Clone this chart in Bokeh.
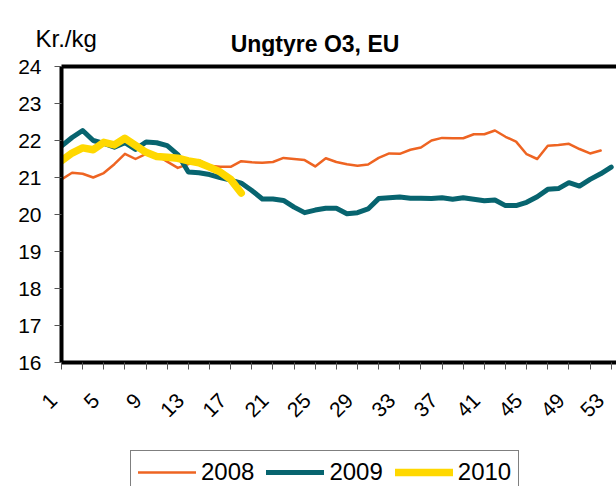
from math import pi
from bokeh.plotting import figure
from bokeh.layouts import column
from bokeh.models import (Range1d, FixedTicker, LinearAxis, Legend, LegendItem,
                          Label, ColumnDataSource)
from bokeh.embed import file_html
from bokeh.resources import INLINE

# ---- data ----
weeks_2008 = list(range(1, 53))
values_2008 = [20.95, 21.13, 21.10, 21.00, 21.12, 21.36, 21.64, 21.50, 21.64, 21.60,
               21.43, 21.26, 21.36, 21.47, 21.32, 21.29, 21.29, 21.44, 21.41, 21.40,
               21.42, 21.53, 21.50, 21.47, 21.30, 21.52, 21.42, 21.36, 21.32, 21.35,
               21.53, 21.65, 21.64, 21.75, 21.81, 22.00, 22.07, 22.06, 22.06, 22.17,
               22.17, 22.27, 22.10, 21.97, 21.63, 21.50, 21.86, 21.88, 21.91, 21.77,
               21.65, 21.73]
weeks_2009 = list(range(1, 54))
values_2009 = [21.85, 22.08, 22.27, 22.00, 21.92, 21.82, 21.94, 21.76, 21.96, 21.94,
               21.86, 21.62, 21.15, 21.13, 21.08, 21.00, 20.93, 20.85, 20.65, 20.42,
               20.42, 20.38, 20.20, 20.05, 20.12, 20.17, 20.17, 20.02, 20.05, 20.15,
               20.43, 20.45, 20.47, 20.44, 20.44, 20.43, 20.45, 20.41, 20.45, 20.41,
               20.37, 20.39, 20.24, 20.24, 20.33, 20.48, 20.68, 20.70, 20.86, 20.77,
               20.95, 21.10, 21.28]
weeks_2010 = list(range(1, 19))
values_2010 = [21.45, 21.66, 21.80, 21.75, 21.95, 21.88, 22.06, 21.87, 21.68, 21.57,
               21.55, 21.52, 21.45, 21.40, 21.28, 21.15, 20.95, 20.58]

x_label_weeks = list(range(1, 54, 4))
x_minor_weeks = list(range(3, 54, 4))
y_ticks = list(range(16, 25))
y_grid = list(range(17, 24))
series_names = ["2008", "2009", "2010"]
series_colors = ["#EE6422", "#07646F", "#FFD800"]
series_widths = [2.5, 5, 7.5]
title_text = "Ungtyre O3, EU"
unit_text = "Kr./kg"

FONT = "Liberation Sans"
W = 616
TOP_H = 56

# ---------------- header (title + unit) ----------------
top = figure(width=W, height=TOP_H, output_backend="svg", toolbar_location=None,
             x_range=Range1d(0, W), y_range=Range1d(TOP_H, 0),
             min_border=0, x_axis_type=None, y_axis_type=None)
top.frame_align = False
top.outline_line_color = None
top.grid.visible = False
top.add_layout(Label(x=35, y=38, text=unit_text, text_font=FONT, text_font_size="24px",
                     text_align="left", text_baseline="alphabetic", text_color="black"))
top.add_layout(Label(x=314.5, y=43, text=title_text, text_font=FONT, text_font_size="23px",
                     text_font_style="bold", text_align="center",
                     text_baseline="alphabetic", text_color="black"))

# ---------------- main chart ----------------
p = figure(width=W, height=394, output_backend="svg", toolbar_location=None,
           x_range=Range1d(1, 53.5), y_range=Range1d(16, 24),
           min_border_left=61, min_border_right=0, min_border_top=10,
           min_border_bottom=88, x_axis_type=None, y_axis_type=None)
p.frame_align = False
p.outline_line_color = None
p.background_fill_color = "white"
p.border_fill_color = "white"

xa = LinearAxis(ticker=FixedTicker(ticks=x_label_weeks, minor_ticks=x_minor_weeks))
xa.axis_line_width = 4
xa.axis_line_color = "black"
xa.major_tick_out = 7
xa.major_tick_in = 0
xa.minor_tick_out = 7
xa.minor_tick_in = 0
xa.major_tick_line_color = "#555555"
xa.minor_tick_line_color = "#555555"
xa.major_label_orientation = pi / 4
xa.major_label_standoff = 19
xa.major_label_overrides = {w: str(w) + "\u00a0\u00a0" for w in x_label_weeks}
xa.major_label_text_font = FONT
xa.major_label_text_font_size = "21px"
xa.major_label_text_color = "black"
p.add_layout(xa, "below")

ya = LinearAxis(ticker=FixedTicker(ticks=y_ticks))
ya.axis_line_width = 4
ya.axis_line_color = "black"
ya.major_tick_out = 7
ya.major_tick_in = 0
ya.minor_tick_line_color = None
ya.major_tick_line_color = "#555555"
ya.major_label_standoff = 13
ya.major_label_text_font = FONT
ya.major_label_text_font_size = "21px"
ya.major_label_text_color = "black"
p.add_layout(ya, "left")

ta = LinearAxis(ticker=FixedTicker(ticks=[27]))
ta.axis_line_width = 4
ta.axis_line_color = "black"
ta.major_tick_line_color = None
ta.minor_tick_line_color = None
ta.major_tick_out = 0
ta.major_tick_in = 0
ta.major_label_text_font_size = "1px"
ta.major_label_text_alpha = 0
ta.major_label_standoff = 0
p.add_layout(ta, "above")

p.xgrid.visible = False
p.ygrid.ticker = FixedTicker(ticks=y_grid)
p.ygrid.grid_line_color = "black"
p.ygrid.grid_line_width = 1
p.ygrid.grid_line_dash = "7 6"

for wk, vals, col, lw in zip([weeks_2008, weeks_2009, weeks_2010],
                             [values_2008, values_2009, values_2010],
                             series_colors, series_widths):
    src = ColumnDataSource(dict(x=wk, y=vals))
    p.line("x", "y", source=src, line_color=col, line_width=lw,
           line_join="round", line_cap="round")

# ---------------- legend strip ----------------
leg = figure(width=W, height=36, output_backend="svg", toolbar_location=None,
             x_range=Range1d(0, 1), y_range=Range1d(0, 1),
             min_border=0, x_axis_type=None, y_axis_type=None)
leg.frame_align = False
leg.outline_line_color = None
leg.grid.visible = False
items = []
for name, col, lw in zip(series_names, series_colors, series_widths):
    # legend proxy (kept outside the visible range of this strip)
    r = leg.line(x=[-5, -4], y=[-5, -5], line_color=col, line_width=lw, line_cap="round")
    items.append(LegendItem(label=name, renderers=[r]))
legend = Legend(items=items, orientation="horizontal", location=(130, -8))
legend.label_text_font = FONT
legend.label_text_font_size = "24px"
legend.label_text_color = "black"
legend.glyph_width = 58
legend.glyph_height = 24
legend.label_height = 24
legend.label_standoff = 5
legend.spacing = 12
legend.padding = 7
legend.margin = 0
legend.border_line_color = "black"
legend.border_line_width = 1
legend.background_fill_color = "white"
legend.background_fill_alpha = 1
leg.add_layout(legend, "center")

layout = column(top, p, leg, spacing=0)
open("out.html", "w").write(file_html(layout, INLINE))
